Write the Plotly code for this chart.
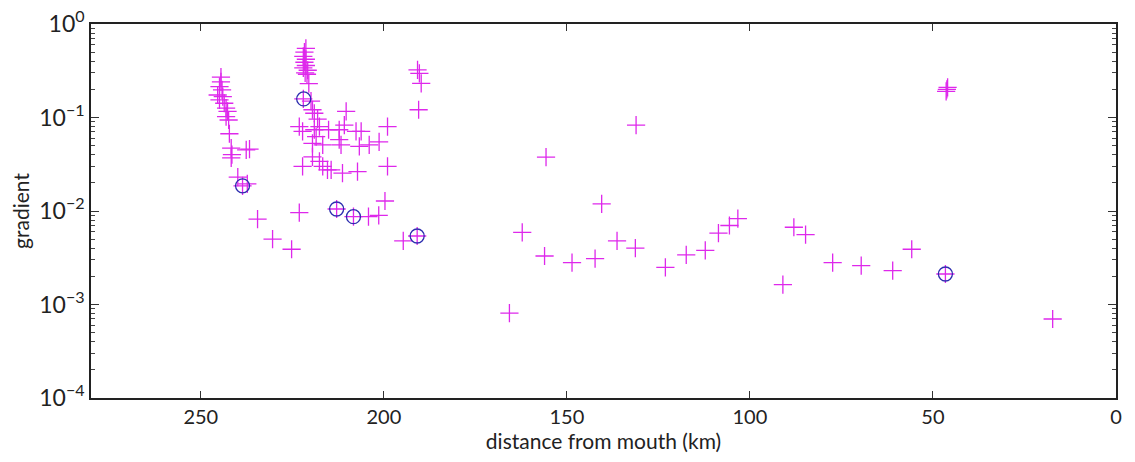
import plotly.graph_objects as go

# Along-river distance (km) and gradient for every measured reach
dist_km = [
    # upper cluster near 245 km
    244.5, 244.5, 244.9, 244.2, 245.4, 244.0, 244.9, 243.6, 243.1, 242.7, 243.1, 242.4,
    242.2, 241.7, 241.5, 241.7, 237.6, 236.7, 239.9, 238.6, 237.3,
    # cluster near 221 km
    221.3, 221.7, 222.0, 221.3, 221.7, 221.3, 222.0, 220.8, 221.5, 221.0, 220.5,
    222.0, 219.9, 219.5, 219.0, 218.1, 217.6, 223.1, 222.2, 218.5, 219.0, 219.5,
    216.7, 215.1, 212.2, 210.8, 210.3, 207.6, 206.2, 212.2, 211.7, 206.7, 204.0,
    201.3, 199.0, 219.5, 217.6, 216.7, 222.2, 215.4, 214.4, 211.3, 207.2, 199.0,
    # cluster near 190 km
    190.8, 190.3, 189.8, 190.5,
    # lower reaches of the upper river
    234.5, 230.4, 225.2, 223.1, 212.9, 208.3, 190.9, 199.7, 204.2, 201.4, 194.7,
    # middle and lower river
    131.1, 155.7, 140.5, 162.2, 156.1, 148.6, 142.3, 136.3, 131.3, 165.7, 123.1,
    117.4, 112.2, 108.6, 105.6, 103.3, 88.0, 84.8, 91.0, 77.4, 69.6, 61.0, 55.8,
    46.6, 46.2, 46.4, 46.0, 17.3,
]
gradient = [
    0.27, 0.24, 0.214, 0.197, 0.174, 0.167, 0.154, 0.142, 0.126, 0.116, 0.102, 0.094,
    0.067, 0.047, 0.040, 0.037, 0.045, 0.046, 0.023, 0.0186, 0.0195,
    0.55, 0.50, 0.45, 0.42, 0.39, 0.36, 0.34, 0.32, 0.30, 0.29, 0.23,
    0.158, 0.15, 0.121, 0.111, 0.096, 0.080, 0.080, 0.071, 0.0625, 0.074, 0.053,
    0.051, 0.074, 0.074, 0.083, 0.116, 0.071, 0.071, 0.058, 0.051, 0.049, 0.051,
    0.055, 0.080, 0.038, 0.034, 0.030, 0.030, 0.0275, 0.0275, 0.0254, 0.0264, 0.030,
    0.323, 0.297, 0.232, 0.121,
    0.0082, 0.0050, 0.0039, 0.0096, 0.0105, 0.0087, 0.0054, 0.0128, 0.0087, 0.0090, 0.0048,
    0.083, 0.0377, 0.0119, 0.0059, 0.0033, 0.0028, 0.0031, 0.0048, 0.0040, 0.00081, 0.0025,
    0.0034, 0.0038, 0.0058, 0.0070, 0.0083, 0.0067, 0.0056, 0.00163, 0.0028, 0.0026, 0.0023, 0.0039,
    0.00212, 0.20, 0.19, 0.21, 0.0007,
]

# Reaches flagged as knickpoints
knick_km = [238.6, 221.9, 212.9, 208.3, 190.9, 46.6]
knick_gradient = [0.0186, 0.158, 0.0105, 0.0087, 0.0054, 0.00212]

x_ticks = [250, 200, 150, 100, 50, 0]
y_ticks = [1e-4, 1e-3, 1e-2, 1e-1, 1e0]
y_tick_text = ["10<sup>\u22124</sup>", "10<sup>\u22123</sup>", "10<sup>\u22122</sup>",
               "10<sup>\u22121</sup>", "10<sup>0</sup>"]
y_minor = [m * 10.0 ** e for e in range(-4, 0) for m in range(2, 10)]

cross_color = "rgb(222,40,235)"
circle_color = "rgb(45,45,175)"
frame_color = "#222"

fig = go.Figure()
fig.add_trace(go.Scatter(
    x=dist_km, y=gradient, mode="markers",
    marker=dict(symbol="cross-thin-open", size=13, color=cross_color,
                line=dict(color=cross_color, width=1.3)),
    showlegend=False,
))
fig.add_trace(go.Scatter(
    x=knick_km, y=knick_gradient, mode="markers",
    marker=dict(symbol="circle-open", size=14, color=circle_color,
                line=dict(color=circle_color, width=1.3)),
    showlegend=False,
))
# empty trace so the right-hand tick axis is drawn
fig.add_trace(go.Scatter(x=[], y=[], yaxis="y2", showlegend=False, hoverinfo="skip"))

log_ticks = dict(
    type="log", range=[-4, 0], tickvals=y_ticks,
    ticks="inside", ticklen=8, tickwidth=1, tickcolor="#333",
    showgrid=False, zeroline=False, automargin=False,
    minor=dict(tickvals=y_minor, ticks="inside", ticklen=4,
               tickcolor="#444", showgrid=False),
)

fig.update_layout(
    width=1135, height=462,
    margin=dict(l=91, r=19, t=24, b=64),
    paper_bgcolor="white", plot_bgcolor="white",
    font=dict(family="Lato, Open Sans, sans-serif", size=21, color="#222"),
    xaxis=dict(
        range=[280, 0], tickvals=x_ticks, ticks="inside", ticklen=7,
        tickwidth=1, tickcolor="#333", showline=True, linecolor=frame_color,
        linewidth=1.5, mirror="ticks", showgrid=False, zeroline=False,
        automargin=False, tickfont=dict(size=20),
        title=dict(text="distance from mouth (km)", standoff=4, font=dict(size=21)),
    ),
    yaxis=dict(
        **log_ticks, ticktext=y_tick_text,
        showline=True, linecolor=frame_color, linewidth=1.5, mirror=True,
        tickfont=dict(size=23),
        title=dict(text="gradient", standoff=4, font=dict(size=21)),
    ),
    yaxis2=dict(
        **log_ticks, overlaying="y", side="right", showticklabels=False,
        showline=False,
    ),
)

fig.write_html("out.html")
